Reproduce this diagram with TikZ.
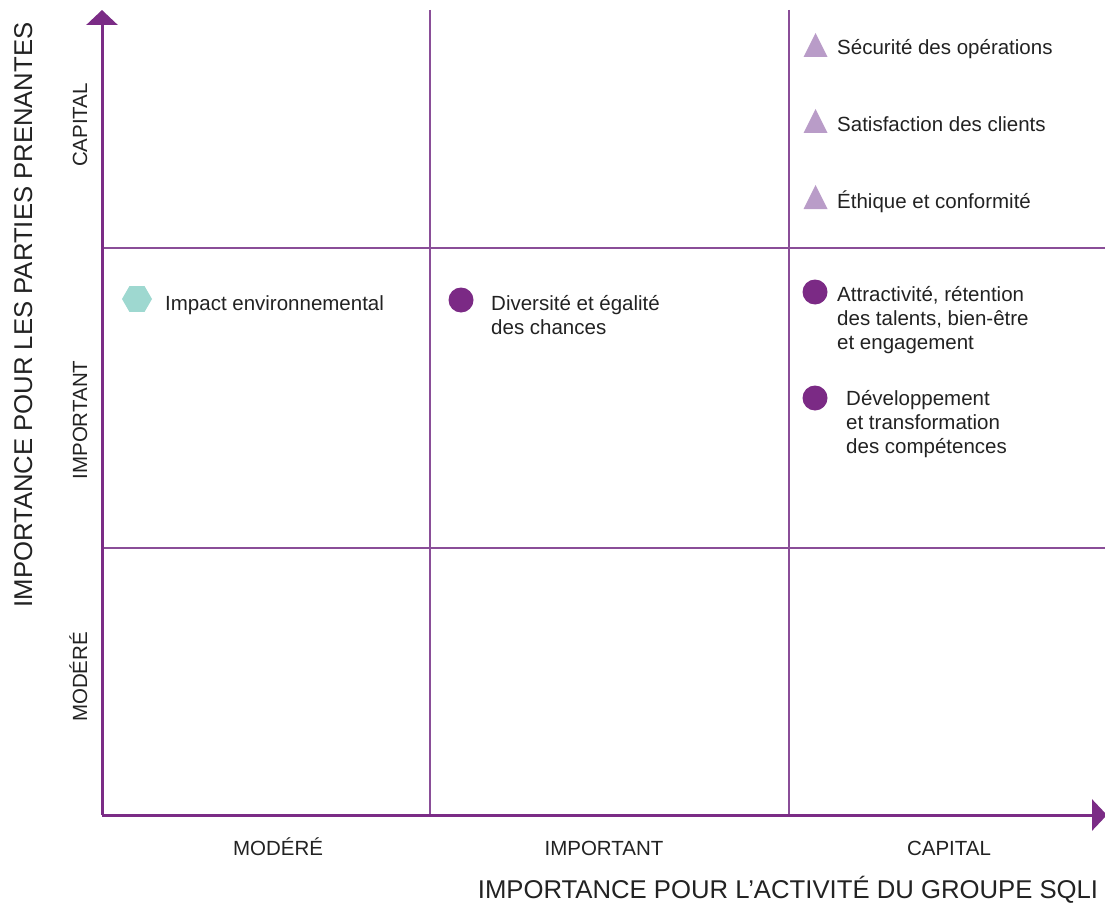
\documentclass[tikz,border=0pt]{standalone}
\usepackage{fontspec}
\setmainfont{Liberation Sans}
\usetikzlibrary{arrows.meta,shapes.geometric}
\definecolor{axisviolet}{HTML}{7B2C86}
\definecolor{gridviolet}{HTML}{8A4E98}
\definecolor{lilac}{HTML}{B99CC8}
\definecolor{plum}{HTML}{7B2A85}
\definecolor{aqua}{HTML}{9ED8D0}
\definecolor{ink}{HTML}{222222}
\begin{document}
\begin{tikzpicture}[x=1pt,y=-1pt,
  axisline/.style={axisviolet,line width=3pt,-{Triangle[width=31pt,length=15pt]}},
  gridline/.style={gridviolet,line width=1.1pt},
  item/.style={ink,anchor=base west,align=left,inner sep=0pt,font=\fontsize{20.5}{24}\selectfont},
  level/.style={ink,anchor=base,inner sep=0pt,font=\fontsize{20.5}{24}\selectfont},
  title/.style={ink,anchor=base,inner sep=0pt,font=\fontsize{25.7}{30}\selectfont},
  dot/.style={circle,fill=plum,inner sep=0pt,minimum size=25pt},
  hexa/.style={regular polygon,regular polygon sides=6,fill=aqua,inner sep=0pt,minimum size=30pt}]
\useasboundingbox (0,0) rectangle (1105,904);

% grid
\draw[gridline] (430,10) -- (430,815);
\draw[gridline] (789,10) -- (789,815);
\draw[gridline] (102,248) -- (1105,248);
\draw[gridline] (102,548) -- (1105,548);

% axes
\draw[axisline] (102,815) -- (102,10);
\draw[axisline] (102,815) -- (1107,815);

% levels
\node[level] (xmod) at (278,855) {MODÉRÉ};
\node[level] (ximp) at (604,855) {IMPORTANT};
\node[level] (xcap) at (949,855) {CAPITAL};
\node[level,rotate=90] (ycap) at (87,125) {CAPITAL};
\node[level,rotate=90] (yimp) at (87,420) {IMPORTANT};
\node[level,rotate=90] (ymod) at (87,677) {MODÉRÉ};

% titles
\node[title] (xtitle) at (788,898) {IMPORTANCE POUR L’ACTIVITÉ DU GROUPE SQLI};
\node[title,rotate=90] (ytitle) at (32,315) {IMPORTANCE POUR LES PARTIES PRENANTES};

% markers
\foreach \yy in {45,121,197}
  \fill[lilac] ({803.5},{\yy+12}) -- ({815.5},{\yy-12}) -- ({827.5},{\yy+12}) -- cycle;
\node[hexa] (envmark) at (137,299) {};
\node[dot] (divmark) at (461,300) {};
\node[dot] (attmark) at (815,292) {};
\node[dot] (devmark) at (815,398) {};

% topics (last baseline)
\node[item] (secu) at (837,55) {Sécurité des opérations};
\node[item] (satis) at (837,132) {Satisfaction des clients};
\node[item] (ethique) at (837,208) {Éthique et conformité};
\node[item] (env) at (165,310) {Impact environnemental};
\node[item] (div) at (491,334) {Diversité et égalité\\des chances};
\node[item] (att) at (837,349) {Attractivité, rétention\\des talents, bien-être\\et engagement};
\node[item] (dev) at (846,453) {Développement\\et transformation\\des compétences};
\end{tikzpicture}
\end{document}
